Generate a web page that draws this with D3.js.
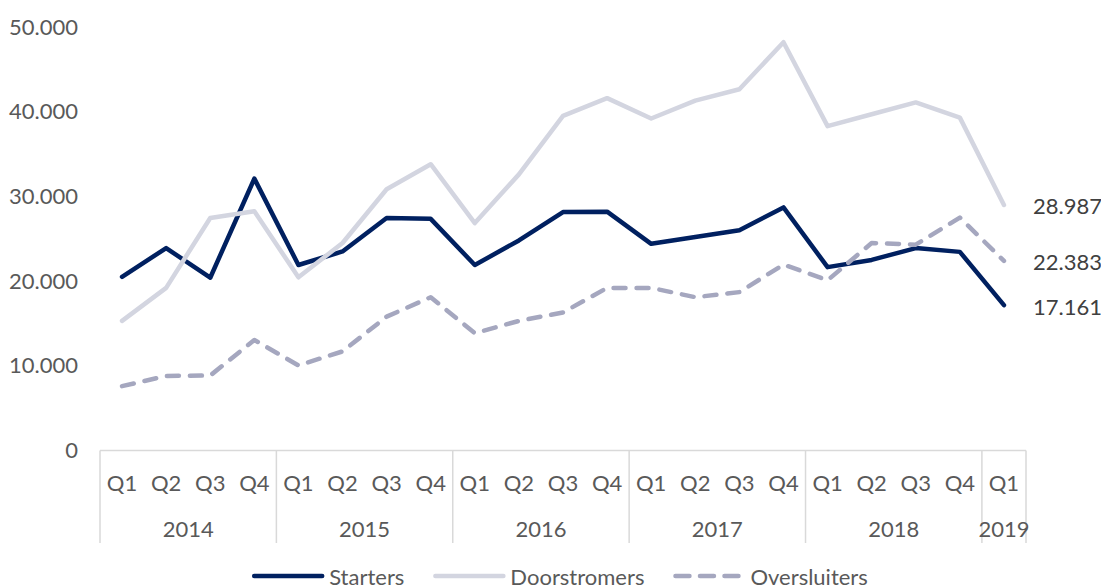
<!DOCTYPE html>
<html>
<head>
<meta charset="utf-8">
<script src="https://cdn.jsdelivr.net/npm/d3@7"></script>
<style>
  body { margin: 0; background: #fff; }
  svg { display: block; font-family: Lato, "Open Sans", sans-serif; }
</style>
</head>
<body>
<svg id="chart" width="1101" height="587"></svg>
<script>
// data
var years = ["2014", "2015", "2016", "2017", "2018", "2019"];
var quartersPerYear = [4, 4, 4, 4, 4, 1];
var quarterLabels = ["Q1", "Q2", "Q3", "Q4"];
var starters = [20500, 23900, 20400, 32100, 21900, 23500, 27450, 27350, 21900, 24800, 28150, 28200,
                24400, 25200, 26000, 28700, 21650, 22500, 23900, 23450, 17161];
var doorstromers = [15300, 19200, 27450, 28250, 20450, 24500, 30850, 33800, 26850, 32600, 39500, 41600,
                    39200, 41300, 42650, 48200, 38300, 39700, 41100, 39300, 28987];
var oversluiters = [7600, 8800, 8850, 13050, 10050, 11700, 15800, 18100, 13850, 15300, 16300, 19200,
                    19200, 18100, 18700, 21950, 20100, 24500, 24300, 27500, 22383];
var yTicks = [0, 10000, 20000, 30000, 40000, 50000];

// periods list built from years
var periods = [];
years.forEach(function(y, i) {
  for (var q = 0; q < quartersPerYear[i]; q++) {
    periods.push({ year: y, quarter: quarterLabels[q], key: y + " " + quarterLabels[q] });
  }
});

var series = [
  { name: "Starters", values: starters, color: "#002060", dash: null },
  { name: "Doorstromers", values: doorstromers, color: "#d3d5e0", dash: null },
  { name: "Oversluiters", values: oversluiters, color: "#a5a7bf", dash: "12,11" }
];

var svg = d3.select("#chart");
var textColor = "#595959";
var fontSize = 22;

var x = d3.scaleBand()
  .domain(periods.map(function(d) { return d.key; }))
  .range([100, 1026]);

var y = d3.scaleLinear()
  .domain([0, 50000])
  .range([450.5, 27]);

var nl = d3.formatLocale({ decimal: ",", thousands: ".", grouping: [3], currency: ["€", ""] });
var fmt = nl.format(",d");

// y axis labels (no line)
var yAxis = svg.append("g")
  .attr("transform", "translate(78,0)")
  .call(d3.axisLeft(y).tickValues(yTicks).tickFormat(fmt).tickSize(0).tickPadding(0));
yAxis.select(".domain").remove();
yAxis.selectAll("text")
  .attr("fill", textColor)
  .style("font-size", fontSize + "px")
  .style("font-family", "Lato, sans-serif");

// category axis: baseline + quarter labels
var cx = function(k) { return x(k) + x.bandwidth() / 2; };
var axisColor = "#d9d9d9";

svg.append("line")
  .attr("x1", x.range()[0]).attr("x2", x.range()[1])
  .attr("y1", y(0)).attr("y2", y(0))
  .attr("stroke", axisColor).attr("stroke-width", 1.5);

svg.append("g").selectAll("text")
  .data(periods)
  .enter()
  .append("text")
  .attr("x", function(d) { return cx(d.key); })
  .attr("y", 482)
  .attr("text-anchor", "middle")
  .attr("dominant-baseline", "central")
  .attr("fill", textColor)
  .style("font-size", fontSize + "px")
  .text(function(d) { return d.quarter; });

// year groups
var groups = [];
var idx = 0;
years.forEach(function(yr, i) {
  var first = periods[idx].key;
  var last = periods[idx + quartersPerYear[i] - 1].key;
  groups.push({ year: yr, x0: x(first), x1: x(last) + x.bandwidth() });
  idx += quartersPerYear[i];
});

var sepX = [groups[0].x0].concat(groups.map(function(g) { return g.x1; }));
svg.append("g").selectAll("line")
  .data(sepX)
  .enter()
  .append("line")
  .attr("x1", function(d) { return d; })
  .attr("x2", function(d) { return d; })
  .attr("y1", y(0))
  .attr("y2", 543)
  .attr("stroke", axisColor)
  .attr("stroke-width", 1.5);

svg.append("g").selectAll("text")
  .data(groups)
  .enter()
  .append("text")
  .attr("x", function(d) { return (d.x0 + d.x1) / 2; })
  .attr("y", 528)
  .attr("text-anchor", "middle")
  .attr("dominant-baseline", "central")
  .attr("fill", textColor)
  .style("font-size", fontSize + "px")
  .text(function(d) { return d.year; });

// lines
var line = d3.line()
  .x(function(d, i) { return cx(periods[i].key); })
  .y(function(d) { return y(d); });

svg.append("g").selectAll("path")
  .data(series)
  .enter()
  .append("path")
  .attr("d", function(s) { return line(s.values); })
  .attr("fill", "none")
  .attr("stroke", function(s) { return s.color; })
  .attr("stroke-width", 4.5)
  .attr("stroke-linejoin", "round")
  .attr("stroke-linecap", "round")
  .attr("stroke-dasharray", function(s) { return s.dash; });

// end labels
var lastKey = periods[periods.length - 1].key;
svg.append("g").selectAll("text")
  .data(series)
  .enter()
  .append("text")
  .attr("x", cx(lastKey) + 29)
  .attr("y", function(s) { return y(s.values[s.values.length - 1]) + 1; })
  .attr("dominant-baseline", "central")
  .attr("fill", "#404040")
  .style("font-size", fontSize + "px")
  .text(function(s) { return fmt(s.values[s.values.length - 1]); });

// legend
var legend = svg.append("g");
var legendY = 576;
var items = legend.selectAll("g")
  .data(series)
  .enter()
  .append("g");

items.append("line")
  .attr("x1", 2).attr("x2", 70)
  .attr("y1", legendY).attr("y2", legendY)
  .attr("stroke", function(s) { return s.color; })
  .attr("stroke-width", 4.5)
  .attr("stroke-linecap", "round")
  .attr("stroke-dasharray", function(s) { return s.dash ? "14,10.5" : null; });

items.append("text")
  .attr("x", 77)
  .attr("y", legendY)
  .attr("dominant-baseline", "central")
  .attr("fill", textColor)
  .style("font-size", fontSize + "px")
  .text(function(s) { return s.name; });

var offset = 0;
var widths = [];
items.each(function() {
  var w = 77 + d3.select(this).select("text").node().getComputedTextLength();
  widths.push(w);
});
var total = d3.sum(widths) + 29 * (widths.length - 1);
var start = 560 - total / 2;
items.attr("transform", function(d, i) {
  var t = "translate(" + (start + offset) + ",0)";
  offset += widths[i] + 29;
  return t;
});
</script>
</body>
</html>
